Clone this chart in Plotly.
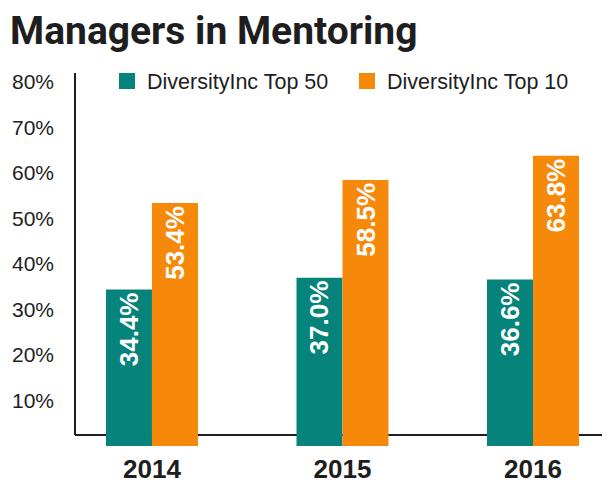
import plotly.graph_objects as go

years = ["2014", "2015", "2016"]
top50 = [34.4, 37.0, 36.6]
top10 = [53.4, 58.5, 63.8]
series_names = ["DiversityInc Top 50", "DiversityInc Top 10"]
y_ticks = [10, 20, 30, 40, 50, 60, 70, 80]
y_tick_labels = ["10%", "20%", "30%", "40%", "50%", "60%", "70%", "80%"]
title_text = "Managers in Mentoring"

TEAL = "#06837A"
ORANGE = "#F7890A"
INK = "#1e1e1e"
FONT = "Liberation Sans, Arial, sans-serif"

# the page body adds an 8px offset, so the figure is 8px smaller each way
W, H = 602, 475
L, T, B = 67, 65, 35

fig = go.Figure()
for name, vals, col in [(series_names[0], top50, TEAL), (series_names[1], top10, ORANGE)]:
    fig.add_trace(go.Bar(
        x=years, y=vals, name=name, marker=dict(color=col, line=dict(width=0)),
        texttemplate="%{y:.1f}%", textposition="inside", insidetextanchor="end",
        textangle=-90, insidetextfont=dict(color="white", size=26, family=FONT, weight="bold"),
        showlegend=False, hoverinfo="skip",
    ))
    # legend proxies with larger square swatches
    fig.add_trace(go.Scatter(
        x=[None], y=[None], mode="markers", name=name,
        marker=dict(symbol="square", size=16, color=col), showlegend=True,
    ))

axis_y = 2.4
fig.add_shape(type="line", xref="paper", x0=0, x1=1, yref="y", y0=axis_y, y1=axis_y,
              line=dict(color=INK, width=2), layer="below")
fig.add_shape(type="line", xref="paper", x0=0, x1=0, yref="y", y0=axis_y, y1=82,
              line=dict(color=INK, width=2), layer="below")

plot_h = H - T - B
plot_w = W - L
fig.update_layout(
    width=W, height=H,
    margin=dict(l=L, r=0, t=T, b=B, autoexpand=False),
    paper_bgcolor="white", plot_bgcolor="white",
    barmode="group", bargap=0.517, bargroupgap=0,
    title=dict(text="<b>" + title_text + "</b>", x=2 / W, xanchor="left", xref="container",
               y=1 - 22 / H, yanchor="middle", yref="container",
               font=dict(family="Roboto, sans-serif", size=39, color=INK, weight=900)),
    legend=dict(orientation="h", xref="paper", yref="paper",
                x=(99 - L) / plot_w, xanchor="left", y=(plot_h - 8) / plot_h, yanchor="middle",
                font=dict(family=FONT, size=21.5, color=INK),
                entrywidth=195, bgcolor="rgba(0,0,0,0)"),
    xaxis=dict(type="category", range=[-0.404, 2.404], showline=False, showgrid=False,
               zeroline=False, ticks="", automargin=False, ticklabelstandoff=3,
               tickfont=dict(family=FONT, size=26, color=INK, weight="bold")),
    yaxis=dict(range=[-0.44, 82.0], showline=False, showgrid=False, zeroline=False,
               tickmode="array", tickvals=y_ticks, ticktext=y_tick_labels, ticks="",
               automargin=False, ticklabelstandoff=20,
               tickfont=dict(family=FONT, size=21, color=INK)),
)

fig.write_html("out.html")
